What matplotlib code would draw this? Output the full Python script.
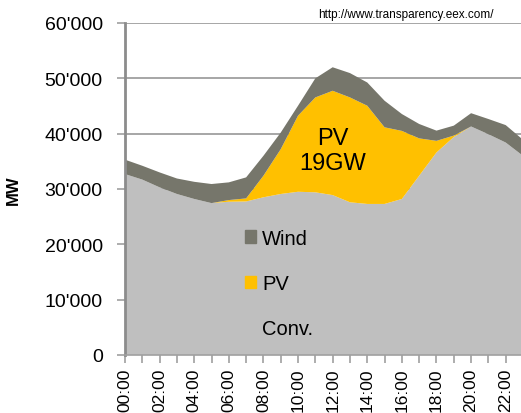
import numpy as np
import matplotlib.pyplot as plt
from matplotlib.patches import Patch

plt.rcParams['font.family'] = ['Liberation Sans', 'DejaVu Sans']

############################################
#                  DATA                    #
############################################

hours = list(range(24))
hour_labels = ['%02d:00' % h for h in hours]

# stacked components in MW
conv = [32700, 31700, 30300, 29100, 28200, 27450, 27700, 27750, 28500, 29100,
        29500, 29400, 28900, 27600, 27300, 27300, 28200, 32400, 36600, 39400,
        41300, 39900, 38400, 36000]
pv = [0, 0, 0, 0, 0, 0, 300, 550, 3900, 8100,
      13750, 17150, 18850, 18950, 17750, 13850, 12300, 6750, 2100, 250,
      0, 0, 0, 0]
wind = [2600, 2500, 2700, 2800, 3100, 3450, 3200, 3800, 3600, 3000,
        1800, 3450, 4250, 4400, 4200, 4800, 3050, 2600, 1850, 1800,
        2400, 2750, 3150, 2900]

yticks = [0, 10000, 20000, 30000, 40000, 50000, 60000]
ytick_labels = ['0', "10'000", "20'000", "30'000", "40'000", "50'000", "60'000"]

c_conv = '#BFBFBF'
c_pv = '#FFC000'
c_wind = '#76766B'

############################################
#                 PLOT                     #
############################################

fig = plt.figure(figsize=(5.21, 4.14), dpi=100)
ax = fig.add_axes([125/521, 58/414, 398/521, 332/414])

ax.stackplot(hours, conv, pv, wind, colors=[c_conv, c_pv, c_wind], linewidth=0, zorder=2)

ax.set_xlim(0, 23)
ax.set_ylim(0, 60000)
ax.set_yticks(yticks)
ax.set_yticklabels(ytick_labels, fontsize=14)
ax.set_xticks(hours)
ax.set_xticklabels([l if h % 2 == 0 else '' for h, l in zip(hours, hour_labels)],
                   rotation=90, fontsize=12.5)
ax.tick_params(axis='both', direction='out', length=6, width=1.2, color='#A0A0A0', pad=3)
ax.tick_params(axis='y', pad=10)

ax.grid(True, axis='y', color='#A6A6A6', linewidth=1.4, zorder=1)
ax.set_axisbelow(True)
for s in ['top', 'right']:
    ax.spines[s].set_visible(False)
ax.spines['left'].set_color('#8C8C8C')
ax.spines['left'].set_linewidth(2)
ax.spines['bottom'].set_color('#A0A0A0')
ax.spines['bottom'].set_linewidth(1.2)

# annotations
ax.text(12.0, 37000, 'PV\n19GW', ha='center', va='center', fontsize=17, linespacing=1.2)
handles = [Patch(color=c_wind, label='Wind'), Patch(color=c_pv, label='PV'),
           Patch(color='none', label='Conv.')]
ax.legend(handles=handles, loc='upper left', bbox_to_anchor=(0.281, 0.405), frameon=False,
          fontsize=14.5, handlelength=0.55, handleheight=0.55, handletextpad=0.3,
          labelspacing=1.31, borderaxespad=0)

fig.text(13/521, 1 - 190/414, 'MW', rotation=90, fontsize=12, fontweight='bold',
         ha='center', va='center')
fig.text(406/521, 1 - 15/414, 'http://www.transparency.eex.com/', fontsize=8.5,
         ha='center', va='center')

plt.savefig('out.png', dpi=100)
